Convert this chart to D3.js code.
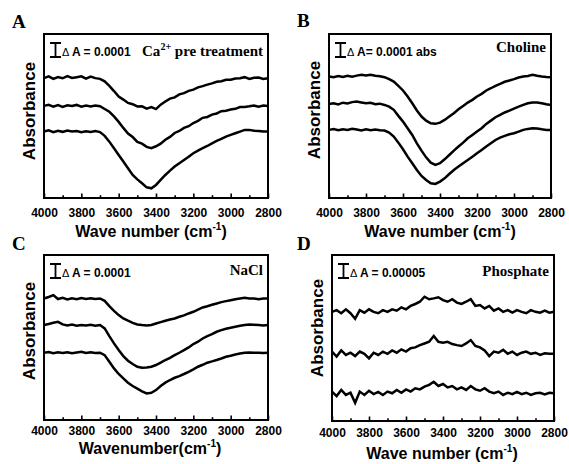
<!DOCTYPE html>
<html>
<head>
<meta charset="utf-8">
<script src="https://cdn.jsdelivr.net/npm/d3@7"></script>
<style>
  body { margin: 0; background: #fff; }
  .tick text { font-family: "Liberation Sans", Arial, sans-serif; font-weight: bold; font-size: 12px; fill: #000; }
  .tick line { stroke: #000; stroke-width: 1.6px; }
  .trace { fill: none; stroke: #000; stroke-width: 2.5px; stroke-linejoin: miter; }
</style>
</head>
<body>
<script>
// wavenumber grid the traces were read on (cm-1), 4000 -> 2800 every 25
var wavenumbers = d3.range(4000, 2799, -25);

// absorbance values, in units of 1e-5 (traces stacked as plotted)
var caTraces = [
  [85.5, 86.8, 85.0, 86.3, 85.4, 87.0, 85.6, 86.2, 86.8, 85.1, 86.6, 85.5, 85.0,
   83.2, 80.0, 76.3, 72.4, 70.2, 67.8, 66.9, 65.3, 65.4, 63.8, 64.9, 63.4,
   66.6, 68.8, 70.9, 71.8, 73.9, 74.8, 76.4, 77.3, 78.9, 79.8, 80.9, 81.8,
   82.9, 83.3, 84.3, 84.4, 85.3, 85.4, 86.2, 84.9, 85.8, 86.0, 84.9, 85.5],
  [65.7, 66.5, 65.2, 66.3, 65.0, 66.1, 65.6, 66.4, 65.2, 65.9, 65.3, 66.0, 65.5,
   63.5, 61.5, 58.2, 54.3, 50.0, 46.0, 43.5, 40.0, 38.8, 36.5, 35.6, 36.9,
   38.8, 41.6, 43.6, 46.4, 47.8, 50.0, 51.2, 53.5, 55.0, 57.2, 57.8, 59.5,
   60.3, 61.9, 62.2, 63.1, 63.6, 64.9, 65.0, 65.4, 65.9, 65.2, 66.0, 65.6],
  [47.4, 48.3, 47.0, 48.0, 47.2, 48.2, 47.5, 47.8, 46.9, 47.6, 47.1, 47.7, 47.0,
   44.3, 40.2, 35.5, 30.7, 26.0, 21.2, 16.4, 13.3, 10.5, 7.6, 6.9, 9.3,
   12.9, 16.4, 19.5, 22.4, 24.8, 27.1, 29.5, 31.9, 33.8, 35.5, 37.1, 39.0,
   40.7, 42.1, 43.8, 45.0, 46.2, 47.4, 48.6, 48.6, 48.0, 47.8, 47.4, 47.4]
];

var cholineTraces = [
  [86.7, 86.2, 87.0, 86.4, 87.2, 86.6, 87.3, 87.9, 87.4, 87.9, 87.2, 86.8, 86.2,
   84.8, 83.1, 80.0, 76.7, 72.4, 67.6, 62.4, 58.1, 55.2, 53.3, 52.9, 53.8,
   55.7, 58.1, 60.5, 63.3, 65.7, 68.1, 70.0, 72.4, 74.3, 76.7, 78.3, 80.0,
   81.4, 82.9, 83.8, 84.8, 86.0, 86.7, 87.1, 87.9, 87.2, 86.7, 86.3, 86.2],
  [67.1, 67.6, 66.8, 68.0, 67.5, 68.4, 68.8, 68.2, 67.6, 67.9, 66.9, 67.3, 66.4,
   65.2, 62.9, 58.6, 54.5, 49.8, 45.0, 39.0, 33.8, 29.0, 25.2, 23.6, 24.8,
   27.6, 30.7, 33.8, 36.7, 39.5, 42.6, 45.0, 47.4, 49.8, 52.9, 55.2, 57.6,
   59.3, 61.0, 62.4, 63.8, 65.2, 66.4, 67.6, 68.1, 68.1, 67.6, 66.9, 66.4],
  [48.6, 49.2, 48.3, 49.0, 48.5, 49.4, 48.8, 48.2, 49.0, 48.4, 48.9, 48.3, 48.1,
   46.7, 43.8, 39.5, 34.8, 29.5, 24.8, 20.0, 15.7, 12.9, 10.5, 10.0, 11.7,
   14.0, 17.1, 20.0, 22.4, 24.8, 27.1, 29.5, 31.9, 34.3, 36.7, 39.0, 41.4,
   43.1, 44.3, 45.5, 46.2, 47.4, 48.6, 49.3, 49.8, 49.5, 49.0, 48.6, 48.6]
];

var naclTraces = [
  [86.9, 88.0, 89.3, 86.5, 87.4, 86.2, 87.0, 86.4, 87.2, 86.6, 87.1, 86.5, 86.9,
   85.2, 81.4, 78.1, 75.0, 72.6, 71.0, 69.5, 68.3, 67.9, 67.6, 67.9, 69.0,
   70.0, 71.0, 71.9, 72.6, 73.8, 74.8, 76.2, 77.4, 79.0, 80.5, 81.4, 82.4,
   83.3, 84.3, 85.0, 85.7, 86.4, 86.9, 87.4, 86.9, 86.9, 86.4, 86.9, 86.9],
  [67.9, 68.6, 69.5, 70.2, 68.4, 67.6, 68.2, 67.5, 68.0, 67.6, 68.1, 67.4, 67.9,
   65.5, 60.0, 54.8, 50.0, 45.7, 42.4, 40.0, 38.1, 37.4, 37.6, 38.1, 39.3,
   41.0, 42.9, 44.5, 46.4, 48.1, 50.0, 51.9, 54.3, 56.0, 58.3, 60.0, 61.4,
   63.1, 64.3, 65.2, 66.0, 66.7, 67.4, 67.9, 68.3, 68.1, 67.9, 67.6, 67.9],
  [48.1, 48.6, 47.7, 48.4, 47.9, 48.5, 47.8, 48.3, 48.8, 47.9, 48.4, 48.0, 48.1,
   46.4, 41.7, 36.9, 32.9, 29.8, 26.7, 24.3, 22.4, 20.5, 19.0, 19.5, 21.4,
   24.3, 26.7, 28.6, 30.2, 31.4, 32.9, 34.5, 36.2, 38.1, 39.5, 41.0, 41.9,
   42.9, 44.0, 45.2, 46.0, 46.9, 47.6, 48.1, 48.3, 48.1, 48.1, 47.9, 48.1]
];

var phosphateTraces = [
  [39.0, 39.6, 38.5, 39.9, 38.5, 36.5, 39.6, 38.7, 39.9, 39.0, 38.5, 39.6, 39.0,
   39.9, 39.4, 40.6, 39.9, 41.1, 41.8, 42.6, 44.4, 43.5, 43.8, 44.2, 43.2,
   42.6, 43.5, 42.3, 41.8, 42.6, 43.5, 41.1, 41.4, 40.2, 41.1, 39.4, 40.2,
   39.0, 39.6, 38.7, 39.6, 39.0, 38.5, 39.6, 39.0, 38.7, 39.4, 38.7, 39.0],
  [24.8, 23.0, 25.2, 23.6, 24.4, 23.2, 24.8, 24.0, 22.4, 24.4, 23.6, 24.8, 24.0,
   25.2, 24.4, 25.6, 24.8, 26.0, 26.3, 27.1, 27.7, 28.3, 30.4, 28.3, 28.0,
   28.3, 27.5, 27.1, 26.8, 27.7, 28.9, 26.8, 26.3, 25.2, 23.2, 24.8, 24.4,
   25.4, 24.0, 24.8, 23.6, 24.4, 24.8, 24.0, 24.4, 23.6, 24.2, 24.0, 24.0],
  [10.5, 8.9, 11.1, 9.3, 10.1, 6.5, 10.5, 9.3, 10.8, 9.6, 10.4, 9.3, 10.5,
   9.9, 11.1, 10.1, 11.3, 10.5, 11.7, 11.3, 12.3, 12.9, 14.0, 12.5, 13.2,
   12.0, 12.5, 11.3, 12.0, 11.1, 12.5, 11.3, 10.8, 11.7, 10.5, 9.9, 10.5,
   9.3, 10.1, 9.6, 10.4, 9.6, 10.1, 9.3, 9.9, 10.1, 9.5, 10.1, 9.9]
];

var panelLetters = ["A", "B", "C", "D"];
var barLabels = ["A = 0.0001", "A= 0.0001 abs", "A = 0.0001", "A = 0.00005"];
var barValues = [10, 10, 10, 5];           // scale bar size, 1e-5 units
var yTops = [117, 117, 118, 59.3];          // top of each y range, 1e-5 units
var treatments = ["Ca", "Choline", "NaCl", "Phosphate"];
var xTitles = ["Wave number (cm", "Wave number (cm", "Wavenumber(cm", "Wave number (cm"];
var majorTicks = [4000, 3800, 3600, 3400, 3200, 3000, 2800];
var minorTicks = [3900, 3700, 3500, 3300, 3100, 2900];

// layout only
var layout = [
  {l: 44,  t: 34,  r: 268, b: 198, lx: 12,  ly: 28,  ay: 29,  acy: 111, tx: 151, ty: 237, tp: 10, ry: 22},
  {l: 329, t: 34,  r: 551, b: 198, lx: 297, ly: 27,  ay: 314, acy: 110, tx: 440, ty: 237, tp: 10, ry: 18},
  {l: 44,  t: 255, r: 268, b: 420, lx: 12,  ly: 250, ay: 29,  acy: 331, tx: 150, ty: 454, tp: 6,  ry: 20},
  {l: 332, t: 255, r: 554, b: 421, lx: 297, ly: 250, ay: 317, acy: 328, tx: 442, ty: 459, tp: 7,  ry: 21}
];

var allTraces = [caTraces, cholineTraces, naclTraces, phosphateTraces];

var svg = d3.select("body").append("svg")
    .attr("width", 569)
    .attr("height", 464);

var sans = "'Liberation Sans', Arial, sans-serif",
    serif = "'Liberation Serif', 'Times New Roman', serif";

layout.forEach(function(p, i) {
    var x = d3.scaleLinear().domain([4000, 2800]).range([p.l, p.r]);
    var y = d3.scaleLinear().domain([0, yTops[i]]).range([p.b, p.t]);

    var g = svg.append("g").attr("class", "panel");

    // ticks: inward, major every 200, minor every 100
    g.append("g")
        .attr("transform", "translate(0," + p.b + ")")
        .call(d3.axisBottom(x).tickValues(minorTicks).tickSizeInner(-2.8).tickSizeOuter(0).tickFormat(""))
        .call(function(a) { a.select(".domain").remove(); });
    g.append("g")
        .attr("transform", "translate(0," + p.b + ")")
        .call(d3.axisBottom(x).tickValues(majorTicks).tickSizeInner(-4.5).tickSizeOuter(0)
            .tickPadding(p.tp).tickFormat(d3.format("d")))
        .call(function(a) { a.select(".domain").remove(); });

    var line = d3.line()
        .x(function(d, j) { return x(wavenumbers[j]); })
        .y(function(d) { return y(d); });

    g.selectAll("path.trace")
        .data(allTraces[i])
        .enter().append("path")
        .attr("class", "trace")
        .attr("d", line);

    g.append("rect")
        .attr("x", p.l).attr("y", p.t)
        .attr("width", p.r - p.l).attr("height", p.b - p.t)
        .attr("fill", "none")
        .attr("stroke", "#000")
        .attr("stroke-width", 2);

    // scale bar
    var barTop = p.t + 9,
        barH = y(0) - y(barValues[i]),
        bx = p.l + 11.5;
    g.append("path")
        .attr("d", "M" + (bx - 5.5) + "," + barTop + "H" + (bx + 5.5) +
            "M" + bx + "," + barTop + "V" + (barTop + barH) +
            "M" + (bx - 5.5) + "," + (barTop + barH) + "H" + (bx + 5.5))
        .attr("stroke", "#000")
        .attr("stroke-width", 1.8)
        .attr("fill", "none");

    g.append("text")
        .attr("x", p.l + 18).attr("y", p.t + 22)
        .style("font-family", sans).style("font-size", "11px")
        .text("\u0394");
    g.append("text")
        .attr("x", p.l + 28).attr("y", p.t + 22)
        .style("font-family", sans).style("font-size", "12px").style("font-weight", "bold")
        .text(barLabels[i]);

    var tr = g.append("text")
        .attr("x", p.r - 5).attr("y", p.t + p.ry)
        .attr("text-anchor", "end")
        .style("font-family", serif).style("font-size", "15px").style("font-weight", "bold")
        .text(treatments[i]);
    if (i == 0) {
        tr.append("tspan").attr("dy", -6).style("font-size", "10px").text("2+");
        tr.append("tspan").attr("dy", 6).text(" pre treatment");
    }

    // panel letter
    svg.append("text")
        .attr("x", p.lx).attr("y", p.ly)
        .style("font-family", serif).style("font-size", "19px").style("font-weight", "bold")
        .text(panelLetters[i]);

    svg.append("text")
        .attr("transform", "translate(" + (p.ay + 6) + "," + p.acy + ") rotate(-90)")
        .attr("text-anchor", "middle")
        .style("font-family", sans).style("font-size", "17px").style("font-weight", "bold")
        .text("Absorbance");

    var xt = svg.append("text")
        .attr("x", p.tx).attr("y", p.ty)
        .attr("text-anchor", "middle")
        .style("font-family", sans).style("font-size", "16px").style("font-weight", "bold")
        .text(xTitles[i]);
    xt.append("tspan").attr("dy", -7).style("font-size", "10px").text("-1");
    xt.append("tspan").attr("dy", 7).text(")");
});
</script>
</body>
</html>
